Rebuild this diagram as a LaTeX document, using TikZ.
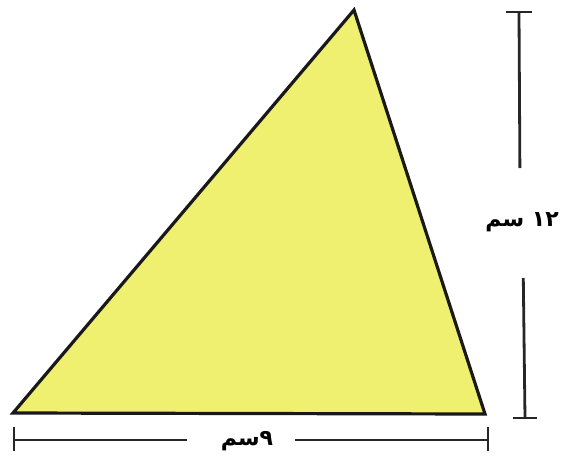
\documentclass[tikz,border=0pt]{standalone}
\usepackage{fontspec}
\newfontfamily\arabicfont[Script=Arabic]{DejaVu Sans}
\TeXXeTstate=1
\definecolor{triyellow}{RGB}{240,240,112}
\begin{document}
\begin{tikzpicture}[x=1pt,y=-1pt,
  dimline/.style={line width=2.8pt,draw=black!85},
  tri/.style={line width=3.2pt,draw=black!90,fill=triyellow,line join=miter},
  dimlabel/.style={font=\arabicfont\bfseries\fontsize{22}{26}\selectfont,inner sep=0pt}]
\useasboundingbox (0,0) rectangle (563,464);
% triangle
\coordinate (A) at (13,413);
\coordinate (B) at (354,10);
\coordinate (C) at (485,414);
\draw[tri] (A) -- (B) -- (C) -- cycle;
% vertical dimension
\coordinate (vt) at (519,12);
\coordinate (vt1) at (519.9,168);
\coordinate (vb1) at (523.3,278);
\coordinate (vb) at (525,418);
\node[dimlabel] (vl) at (522,222) {\beginR ١٢ سم\endR};
\draw[dimline] (vt) -- (vt1);
\draw[dimline] (vb1) -- (vb);
\draw[dimline] ([xshift=-13]vt) -- ([xshift=13]vt);
\draw[dimline] ([xshift=-12]vb) -- ([xshift=12]vb);
% horizontal dimension
\coordinate (hl) at (14,440);
\coordinate (hl1) at (187,440);
\coordinate (hr1) at (295,440);
\coordinate (hr) at (488,440);
\node[dimlabel] (hlab) at (247,441) {\beginR ٩سم\endR};
\draw[dimline] (hl) -- (hl1);
\draw[dimline] (hr1) -- (hr);
\draw[dimline] ([yshift=-11]hl) -- ([yshift=13]hl);
\draw[dimline] ([yshift=-11]hr) -- ([yshift=13]hr);
\end{tikzpicture}
\end{document}
